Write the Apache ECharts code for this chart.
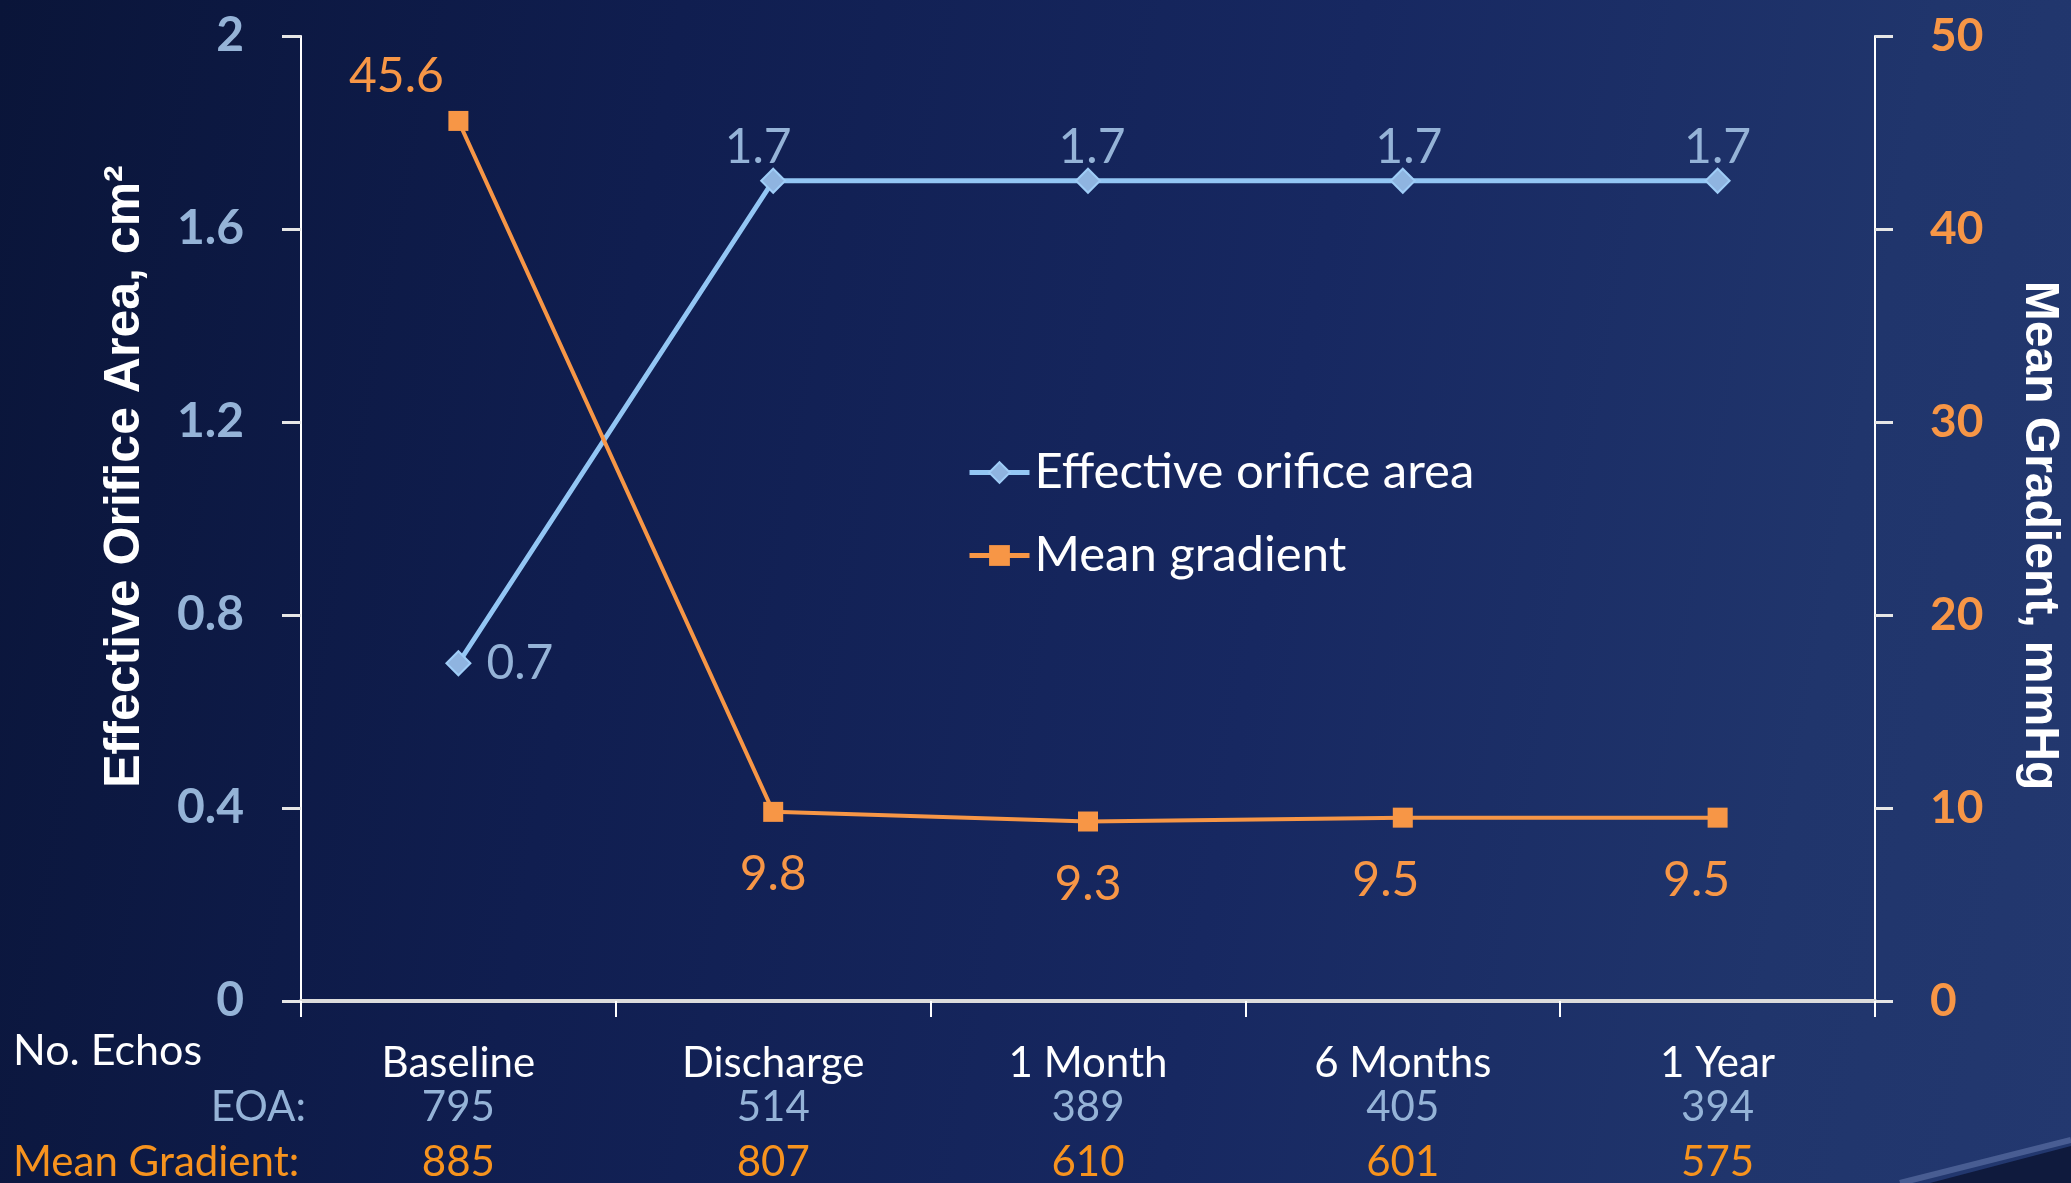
<!DOCTYPE html>
<html>
<head>
<meta charset="utf-8">
<title>Effective Orifice Area and Mean Gradient</title>
<script src="https://cdn.jsdelivr.net/npm/echarts@6/dist/echarts.min.js"></script>
<style>
  html, body { margin: 0; padding: 0; width: 100%; height: 100%; overflow: hidden; background: #0c1842; }
  #chart {
    width: 2071px; height: 1183px;
    background: linear-gradient(100deg, #0a1539 0%, #101e50 30%, #172861 60%, #20356c 85%, #23386f 100%);
  }
</style>
</head>
<body>
<div id="chart"></div>
<script>
// Follow-up time points
const categories = ['Baseline', 'Discharge', '1 Month', '6 Months', '1 Year'];
// Effective orifice area, cm²
const eoaValues = [0.7, 1.7, 1.7, 1.7, 1.7];
// Mean gradient, mmHg
const gradientValues = [45.6, 9.8, 9.3, 9.5, 9.5];
// Number of echocardiograms behind each time point
const eoaEchoCounts = [795, 514, 389, 405, 394];
const gradientEchoCounts = [885, 807, 610, 601, 575];
// Axis ticks
const eoaTicks = { min: 0, max: 2, interval: 0.4 };
const gradientTicks = { min: 0, max: 50, interval: 10 };

// Label nudges for individual points (pixels)
const eoaLabelOffsets = [[0, 0], [-15, 0], [4, 0], [6, 0], [0, 0]];
const gradientLabelOffsets = [[-62, 0], [0, 0], [0, 0], [-17, 0], [-21, 0]];

const FONT = 'Lato, "Open Sans", sans-serif';
const EOA_LINE = '#93c6f4';
const EOA_TEXT = '#95b3d7';
const MG_LINE = '#f79646';
const MG_TEXT = '#f7931e';

const chart = echarts.init(document.getElementById('chart'), null, { renderer: 'canvas' });

const eoaData = eoaValues.map((v, i) => ({
  value: v,
  label: i === 0
    ? { position: 'right', distance: 15, offset: eoaLabelOffsets[i] }
    : { position: 'top', distance: -4, offset: eoaLabelOffsets[i] }
}));

const gradientData = gradientValues.map((v, i) => ({
  value: v,
  label: i === 0
    ? { position: 'top', distance: 10, offset: gradientLabelOffsets[i] }
    : { position: 'bottom', distance: 29, offset: gradientLabelOffsets[i] }
}));

const option = {
  backgroundColor: 'transparent',
  animation: false,
  textStyle: { fontFamily: FONT },
  grid: { left: 301, right: 182, top: 36, bottom: 182, containLabel: false },
  legend: {
    orient: 'vertical',
    left: 962,
    top: 443,
    itemWidth: 60,
    itemHeight: 26,
    itemGap: 34,
    lineStyle: { width: 5 },
    textStyle: { color: '#ffffff', fontSize: 49, fontFamily: FONT, padding: [0, 0, 0, 0] },
    data: ['Effective orifice area', 'Mean gradient']
  },
  xAxis: {
    type: 'category',
    data: categories,
    boundaryGap: true,
    axisLine: { show: true, lineStyle: { color: '#dcdcdc', width: 4 } },
    axisTick: { show: true, length: 16, lineStyle: { color: '#ffffff', width: 2 } },
    axisLabel: {
      interval: 0,
      margin: 42,
      formatter: (value, idx) =>
        `{c|${value}}\n{e|${eoaEchoCounts[idx]}}\n{m|${gradientEchoCounts[idx]}}`,
      rich: {
        c: { color: '#ffffff', fontSize: 42, fontFamily: FONT, lineHeight: 40 },
        e: { color: EOA_TEXT, fontSize: 42, fontFamily: FONT, lineHeight: 48 },
        m: { color: MG_TEXT, fontSize: 42, fontFamily: FONT, lineHeight: 62 }
      }
    },
    splitLine: { show: false }
  },
  yAxis: [
    {
      type: 'value',
      position: 'left',
      min: eoaTicks.min,
      max: eoaTicks.max,
      interval: eoaTicks.interval,
      name: 'Effective Orifice Area, cm²',
      nameLocation: 'middle',
      nameGap: 151,
      nameTextStyle: {
        color: '#ffffff', fontSize: 50, fontWeight: 'bold',
        fontFamily: '"Liberation Sans", Arial, sans-serif',
        padding: [0, 0, 0, 84]
      },
      axisLine: { show: true, lineStyle: { color: '#ffffff', width: 2 } },
      axisTick: { show: true, length: 19, lineStyle: { color: '#e6e6e6', width: 3 } },
      axisLabel: {
        color: EOA_TEXT, fontSize: 48, fontWeight: 'bold', fontFamily: FONT, margin: 57,
        formatter: v => String(+v.toFixed(1))
      },
      splitLine: { show: false }
    },
    {
      type: 'value',
      position: 'right',
      min: gradientTicks.min,
      max: gradientTicks.max,
      interval: gradientTicks.interval,
      name: 'Mean Gradient, mmHg',
      nameLocation: 'middle',
      nameRotate: -90,
      nameGap: 140,
      nameTextStyle: {
        color: '#ffffff', fontSize: 48, fontWeight: 'bold',
        fontFamily: '"Liberation Sans", Arial, sans-serif',
        padding: [0, 0, 0, 34]
      },
      axisLine: { show: true, lineStyle: { color: '#ffffff', width: 2 } },
      axisTick: { show: true, length: 18, lineStyle: { color: '#e6e6e6', width: 3 } },
      axisLabel: { color: MG_LINE, fontSize: 46, fontWeight: 'bold', fontFamily: FONT, margin: 55 },
      splitLine: { show: false }
    }
  ],
  series: [
    {
      name: 'Effective orifice area',
      type: 'line',
      yAxisIndex: 0,
      data: eoaData,
      symbol: 'diamond',
      symbolSize: 24,
      lineStyle: { color: EOA_LINE, width: 5 },
      itemStyle: { color: '#8fb4e0', borderColor: '#9fcdf7', borderWidth: 2 },
      label: { show: true, color: EOA_TEXT, fontSize: 48, fontFamily: FONT },
      emphasis: { disabled: true }
    },
    {
      name: 'Mean gradient',
      type: 'line',
      yAxisIndex: 1,
      data: gradientData,
      symbol: 'rect',
      symbolSize: 20,
      lineStyle: { color: MG_LINE, width: 4 },
      itemStyle: { color: MG_LINE },
      label: { show: true, color: MG_LINE, fontSize: 48, fontFamily: FONT },
      emphasis: { disabled: true }
    }
  ],
  graphic: [
    {
      type: 'text', x: 13, y: 1051,
      style: { text: 'No. Echos', fill: '#ffffff', fontSize: 43, fontFamily: FONT,
               textAlign: 'left', textVerticalAlign: 'middle' }
    },
    {
      type: 'text', x: 306, y: 1107,
      style: { text: 'EOA:', fill: EOA_TEXT, fontSize: 42, fontFamily: FONT,
               textAlign: 'right', textVerticalAlign: 'middle' }
    },
    {
      type: 'text', x: 13, y: 1162,
      style: { text: 'Mean Gradient:', fill: MG_TEXT, fontSize: 42, fontFamily: FONT,
               textAlign: 'left', textVerticalAlign: 'middle' }
    },
    {
      // backdrop swoosh in the lower-right corner
      type: 'polygon', silent: true, z: -1,
      shape: { points: [[1930, 1183], [2071, 1146], [2071, 1183]] },
      style: { fill: '#0f1a3d' }
    },
    {
      type: 'polyline', silent: true, z: -1,
      shape: { points: [[1900, 1183], [2071, 1140]] },
      style: { stroke: 'rgba(120,140,190,0.45)', lineWidth: 6 }
    }
  ]
};

chart.setOption(option);
</script>
</body>
</html>
